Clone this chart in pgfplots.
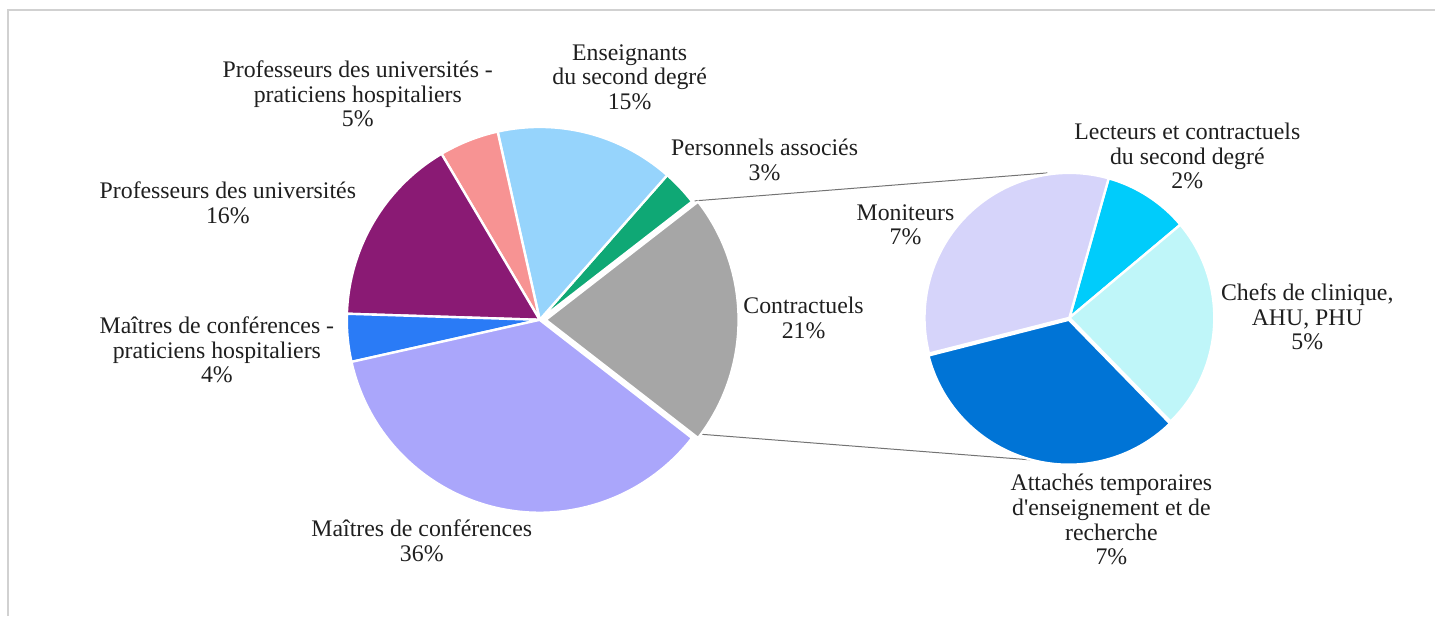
\documentclass[border=0pt]{standalone}
\usepackage{pgfplots}
\usepackage{pgfplotstable}
\pgfplotsset{compat=1.18}
\usepackage{fontspec}
\setmainfont{Liberation Serif}

\definecolor{cMCF}{HTML}{AAA6FB}
\definecolor{cPU}{HTML}{8A1A74}
\definecolor{cPUPH}{HTML}{F79393}
\definecolor{cENS}{HTML}{96D4FC}
\definecolor{cASSO}{HTML}{0FA875}
\definecolor{cCONT}{HTML}{A6A6A6}
\definecolor{cMCFPH}{HTML}{2A7BF6}
\definecolor{cMON}{HTML}{D6D4FA}
\definecolor{cLECT}{HTML}{00CCFB}
\definecolor{cCHEF}{HTML}{BFF6F9}
\definecolor{cATER}{HTML}{0074D6}

% main pie, counter-clockwise from the exploded slice
\pgfplotstableread{
value color explode
21 cCONT 3
3  cASSO 0
15 cENS  0
5  cPUPH 0
16 cPU   0
4  cMCFPH 0
36 cMCF  0
}\mainpie

% breakdown of "Contractuels"
\pgfplotstableread{
value color explode
2 cLECT 0
7 cMON  0
7 cATER 1
5 cCHEF 0
}\subpie

% #1 table, #2 cx, #3 cy (axis units), #4 radius, #5 start angle, #6 total
\newcommand\drawpie[6]{%
  \pgfplotstablegetrowsof{#1}%
  \pgfmathtruncatemacro\nrows{\pgfplotsretval-1}%
  \xdef\pieangle{#5}%
  \pgfplotsforeachungrouped \i in {0,...,\nrows}{%
    \pgfplotstablegetelem{\i}{value}\of{#1}\let\pieval\pgfplotsretval
    \pgfplotstablegetelem{\i}{color}\of{#1}\let\piecol\pgfplotsretval
    \pgfplotstablegetelem{\i}{explode}\of{#1}\let\pieexp\pgfplotsretval
    \pgfmathsetmacro\pieend{\pieangle+360*\pieval/#6}%
    \pgfmathsetmacro\piemid{(\pieangle+\pieend)/2}%
    \edef\temp{\noexpand\fill[\piecol, draw=white, line width=1.2pt, line join=round]
      ([shift={(\piemid:\pieexp pt)}]axis cs:#2,#3) -- ++(\pieangle:#4)
      arc[start angle=\pieangle, end angle=\pieend, radius=#4] -- cycle;}%
    \temp
    \xdef\pieangle{\pieend}%
  }%
}

\begin{document}
\begin{tikzpicture}[
    lbl/.style={font=\fontsize{11.9}{12.3}\selectfont, align=center,
                text=black!88, inner sep=0pt},
]
\begin{axis}[
    hide axis,
    scale only axis,
    width=718pt, height=308pt,
    xmin=0, xmax=1436, ymin=0, ymax=616,
    clip=false,
]
\path (axis cs:0,0) rectangle (axis cs:1436,616);
% partial frame
\draw[black!18, line width=0.8pt] (axis cs:8,0) -- (axis cs:8,606) -- (axis cs:1436,606);

% connector lines
\draw[black!55, line width=0.5pt] (axis cs:695,415) -- (axis cs:1048,443);
\draw[black!55, line width=0.5pt] (axis cs:695,182) -- (axis cs:1068,153);

\drawpie{\mainpie}{540}{296}{96.5pt}{-37.8}{100}
\drawpie{\subpie}{1070}{298}{72.5pt}{40}{21}

\node[lbl] at (axis cs:358,522) {Professeurs des universités -\\praticiens hospitaliers\\5\%};
\node[lbl] at (axis cs:630,539) {Enseignants\\du second degré\\15\%};
\node[lbl] at (axis cs:765,456) {Personnels associés\\3\%};
\node[lbl] at (axis cs:228,413) {Professeurs des universités\\16\%};
\node[lbl] at (axis cs:217,266) {Maîtres de conférences -\\praticiens hospitaliers\\4\%};
\node[lbl] at (axis cs:804,298) {Contractuels\\21\%};
\node[lbl] at (axis cs:422,75) {Maîtres de conférences\\36\%};
\node[lbl] at (axis cs:906,391) {Moniteurs\\7\%};
\node[lbl] at (axis cs:1188,460) {Lecteurs et contractuels\\du second degré\\2\%};
\node[lbl] at (axis cs:1308,299) {Chefs de clinique,\\AHU, PHU\\5\%};
\node[lbl] at (axis cs:1112,96) {Attachés temporaires\\d\textquotesingle enseignement et de\\recherche\\7\%};
\end{axis}
\end{tikzpicture}
\end{document}
